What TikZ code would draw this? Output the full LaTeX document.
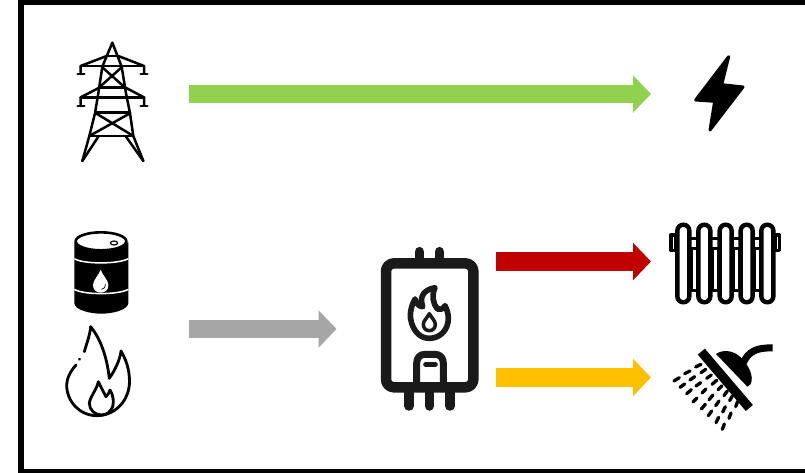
\documentclass[tikz,border=0pt]{standalone}
\usetikzlibrary{arrows.meta}
\definecolor{cgreen}{HTML}{92D050}
\definecolor{cgray}{HTML}{A6A6A6}
\definecolor{cred}{HTML}{C00000}
\definecolor{cyellow}{HTML}{FFC000}
\definecolor{ink}{HTML}{1A1A1A}
\tikzset{
  blockarrow/.style={draw=#1,line width=18.5pt,-{Triangle[length=18pt,width=36.5pt,fill=#1]}},
  zoomed/.style={x=0.33333pt,y=-0.33333pt,line cap=round,line join=round},
  fineline/.style={line width=2.5pt},
}
\begin{document}
\begin{tikzpicture}[x=1pt,y=-1pt]
\useasboundingbox (0,0) rectangle (805,473);
\fill[white] (0,0) rectangle (805,473);
% frame
\fill[black] (18,0) rectangle (24,473);
\fill[black] (18,0) rectangle (805,5);
\fill[black] (18,469) rectangle (805,473);
% arrow ends
\coordinate (gridA) at (189,94);
\coordinate (gridB) at (651,94);
\coordinate (fuelA) at (189,329);
\coordinate (fuelB) at (336.5,329);
\coordinate (heatA) at (496,261.5);
\coordinate (heatB) at (651,261.5);
\coordinate (waterA) at (496,377.5);
\coordinate (waterB) at (651,377.5);
\draw[blockarrow=cgreen] (gridA) -- (gridB);
\draw[blockarrow=cgray] (fuelA) -- (fuelB);
\draw[blockarrow=cred] (heatA) -- (heatB);
\draw[blockarrow=cyellow] (waterA) -- (waterB);
% pylon
\begin{scope}[zoomed,shift={(50pt,-30pt)},fineline]
\draw (97,393) -- (118,318) -- (135,250) -- (145,190) -- (157,110) -- (187,38) -- (215,110) -- (228,190) -- (240,250) -- (250,318) -- (280,393);
\draw (97,393) -- (145,320) (280,393) -- (228,320);
\draw (170,78) -- (205,78);
\draw (92,132) -- (92,108) -- (170,78) (282,132) -- (282,108) -- (205,78);
\draw (92,108) -- (282,108);
\draw (83,132) -- (103,132) (272,132) -- (292,132);
\draw (157,112) -- (222,170) (215,112) -- (150,170);
\draw (150,172) -- (225,172);
\draw (92,228) -- (92,202) -- (150,172) (282,228) -- (282,202) -- (225,172);
\draw (92,202) -- (282,202);
\draw (83,228) -- (103,228) (272,228) -- (292,228);
\draw (138,248) -- (240,248);
\draw (138,250) -- (250,318) (240,250) -- (118,318);
\draw (118,318) -- (250,318);
\end{scope}
% bolt
\begin{scope}[zoomed,shift={(620pt,-40pt)}]
\filldraw[line width=3pt] (326,50) -- (227,180) -- (284,184) -- (270,270) -- (369,141) -- (305,134) -- cycle;
\end{scope}
% barrel
\begin{scope}[zoomed,shift={(50pt,-225pt)}]
\fill (73,52) -- (73,235) .. controls (75,255) and (120,266) .. (153,266) .. controls (190,266) and (232,255) .. (235,235) -- (235,52) -- cycle;
\filldraw[fill=white,line width=2.6pt] (153,49) ellipse [x radius=76,y radius=27];
\draw[fill=white,line width=1.2pt] (192,54) ellipse [x radius=11,y radius=6];
\draw[white,line width=1.5pt,line cap=butt] (73,101) .. controls (100,118) and (205,118) .. (235,101);
\draw[white,line width=1.5pt,line cap=butt] (73,193) .. controls (100,210) and (205,210) .. (235,193);
\fill[white] (152,134) .. controls (146,152) and (129,165) .. (129,180) .. controls (129,195) and (140,203) .. (152,203) .. controls (165,203) and (175,195) .. (175,180) .. controls (175,165) and (158,152) .. (152,134) -- cycle;
\draw[line width=0.7pt] (166,178) .. controls (166,188) and (160,192) .. (155,193);
% flame
\begin{scope}[line width=2.8pt]
\draw (103,380) .. controls (110,355) and (120,330) .. (122,305) .. controls (150,340) and (170,390) .. (178,460) .. controls (195,435) and (210,405) .. (213,378) .. controls (235,415) and (240,450) .. (238,480) .. controls (232,535) and (190,572) .. (140,572) .. controls (90,572) and (50,530) .. (50,480) .. controls (50,460) and (62,438) .. (78,420);
\draw (88,403) -- (89,402);
\draw (145,470) .. controls (152,485) and (160,500) .. (168,515) .. controls (174,510) and (178,502) .. (180,495) .. controls (190,510) and (192,530) .. (188,545) .. controls (182,560) and (170,570) .. (155,570) .. controls (135,570) and (118,555) .. (118,535) .. controls (120,515) and (140,495) .. (145,470) -- cycle;
\end{scope}
\end{scope}
% boiler
\begin{scope}[zoomed,shift={(360pt,-235pt)},ink]
\draw[line width=9.5pt] (178,50) -- (178,75) (238,50) -- (238,75);
\draw[line width=9.5pt] (147,465) -- (147,513) (208,465) -- (208,513) (270,465) -- (270,513);
\draw[line width=10.5pt,rounded corners=8pt,fill=white] (78,85) rectangle (340,457);
\draw[line width=7pt] (170,457) -- (170,385) .. controls (170,368) and (180,358) .. (195,358) -- (225,358) .. controls (240,358) and (250,368) .. (250,385) -- (250,457);
\draw[line width=5pt] (197,388) -- (226,388);
\draw[line width=5.6pt] (225,158) .. controls (190,165) and (178,185) .. (188,215) .. controls (178,215) and (168,205) .. (165,192) .. controls (150,220) and (148,245) .. (155,265) .. controls (165,295) and (185,310) .. (208,310) .. controls (240,310) and (265,285) .. (265,250) .. controls (265,235) and (260,222) .. (255,212) .. controls (250,222) and (240,226) .. (232,222) .. controls (218,205) and (215,180) .. (225,158) -- cycle;
\draw[line width=3.5pt] (208,236) .. controls (200,250) and (190,258) .. (190,268) .. controls (190,280) and (198,287) .. (208,287) .. controls (218,287) and (226,280) .. (226,268) .. controls (226,258) and (216,250) .. (208,236) -- cycle;
\end{scope}
% radiator
\begin{scope}[zoomed,shift={(660pt,-210pt)}]
\foreach \a in {33,345} \draw[line width=3.4pt,line cap=butt] (\a,75) rectangle ++(14,47);
\foreach \a in {88,151,215,278} {
  \draw[line width=3pt,line cap=butt] (\a,86) -- ++(28,0) (\a,116) -- ++(28,0);
  \draw[line width=3pt,line cap=butt] (\a+5,116) -- ++(0,124) -- ++(18,0) -- ++(0,-124);
}
\foreach \c in {70,133,197,260,322}
  \draw[line width=4.4pt,fill=white,rounded corners=6pt] (\c-18,44) rectangle (\c+18,277);
\end{scope}
% shower
\begin{scope}[zoomed,shift={(660pt,-210pt)}]
\fill (168,432) .. controls (185,420) and (215,418) .. (240,440) .. controls (262,460) and (278,490) .. (275,512) .. controls (274,522) and (268,528) .. (262,530) -- cycle;
\draw[white,line width=2.4pt,line cap=butt] (150,420) -- (280,572);
\draw[line width=9.3pt,line cap=butt] (124,425) -- (268,594);
\draw[line width=7pt,line cap=butt] (250,458) .. controls (265,425) and (290,412) .. (338,414);
\foreach \x/\y/\dx/\dy in {
 115/467/8/4, 82/487/8/4, 50/508/8/5,
 130/483/7/5, 97/505/7/5, 67/527/7/5,
 147/500/7/5, 115/523/7/5, 87/545/7/6,
 163/517/7/6, 132/543/6/6, 105/570/6/6,
 180/533/6/6, 153/562/6/7, 130/590/6/7,
 197/550/5/7, 172/580/5/7, 150/610/5/7,
 213/565/4/7, 192/598/4/8, 172/630/4/8,
 230/582/3/8, 210/617/3/8, 190/650/3/8}
  \draw[line width=3.3pt] (\x+\dx,\y-\dy) -- (\x-\dx,\y+\dy);
\end{scope}
\end{tikzpicture}
\end{document}
